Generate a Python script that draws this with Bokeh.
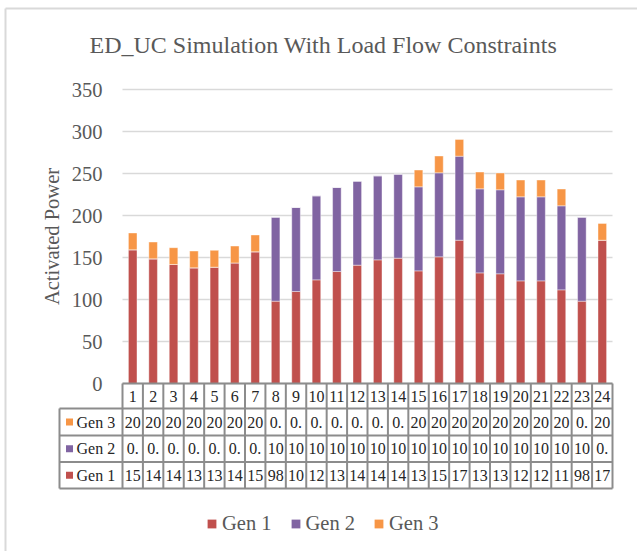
from bokeh.plotting import figure
from bokeh.models import Range1d, FixedTicker, ColumnDataSource, Legend, LegendItem
from bokeh.embed import file_html
from bokeh.resources import INLINE
from bokeh.core.properties import value

# ---------------- data ----------------
hours = list(range(1, 25))
gen1 = [159.2, 148.4, 141.7, 137.7, 138.5, 143.6, 156.8, 98.0, 109.5, 123.4, 133.3, 140.9,
        147.2, 149.2, 134.1, 150.8, 170.6, 131.7, 130.6, 122.2, 122.2, 111.5, 98.0, 170.6]
gen2 = [0.0, 0.0, 0.0, 0.0, 0.0, 0.0, 0.0, 100.0, 100.0, 100.0, 100.0, 100.0,
        100.0, 100.0, 100.0, 100.0, 100.0, 100.0, 100.0, 100.0, 100.0, 100.0, 100.0, 0.0]
gen3 = [20.0, 20.0, 20.0, 20.0, 20.0, 20.0, 20.0, 0.0, 0.0, 0.0, 0.0, 0.0,
        0.0, 0.0, 20.0, 20.0, 20.0, 20.0, 20.0, 20.0, 20.0, 20.0, 0.0, 20.0]
series_names = ["Gen 1", "Gen 2", "Gen 3"]
series_colors = ["#C0504D", "#8064A2", "#F79646"]
y_ticks = [0, 50, 100, 150, 200, 250, 300, 350]
title_text = "ED_UC Simulation With Load Flow Constraints"
y_label = "Activated Power"

# ---------------- geometry / style ----------------
FONT = "Liberation Serif"
GREY = "#595959"
DARK = "#262626"
TABLE_LINE = "#8C8C8C"
W, H = 637, 551
PLOT_L, PLOT_R = 122, 612        # horizontal extent of the bar area (pixels)
ZERO_PY, TOP_PY = 383, 89        # pixel rows of 0 and of the top tick
CAT_PX = (PLOT_R - PLOT_L) / len(hours)
PX_PER_VAL = (ZERO_PY - TOP_PY) / max(y_ticks)
LAB_U = 63 / CAT_PX              # width of the table's label column, in categories
X0 = -PLOT_L / CAT_PX
X1 = len(hours) + (W - PLOT_R) / CAT_PX
Y1 = max(y_ticks) + TOP_PY / PX_PER_VAL
Y0 = Y1 - H / PX_PER_VAL

def px2x(px):
    return X0 + px / CAT_PX

def px2y(py):
    return Y1 - py / PX_PER_VAL

def rowy(px_below_zero):
    return -px_below_zero / PX_PER_VAL

p = figure(width=W, height=H, x_range=Range1d(X0, X1), y_range=Range1d(Y0, Y1),
           output_backend="svg", toolbar_location=None, x_axis_location=None,
           min_border_left=0, min_border_right=0, min_border_top=0, min_border_bottom=0)
p.outline_line_color = None
p.grid.visible = False

# title
p.text(x=[px2x(89)], y=[px2y(44)], text=[title_text], text_font=value(FONT),
       text_font_size="24px", text_color=GREY, text_align="left", text_baseline="alphabetic")

ax = p.yaxis[0]
ax.fixed_location = 0
ax.bounds = (0, max(y_ticks))
ax.ticker = FixedTicker(ticks=y_ticks)
ax.axis_line_color = None
ax.major_tick_line_color = None
ax.minor_tick_line_color = None
ax.major_tick_out = 0
ax.major_tick_in = 0
ax.major_label_standoff = 20
ax.major_label_text_font = FONT
ax.major_label_text_font_size = "20.5px"
ax.major_label_text_color = GREY
ax.axis_label = y_label
ax.axis_label_text_font = FONT
ax.axis_label_text_font_size = "20.5px"
ax.axis_label_text_font_style = "normal"
ax.axis_label_text_color = GREY
ax.axis_label_standoff = 6

# chart-area border (left and top edges visible in the picture)
p.segment(x0=[px2x(5), px2x(5)], y0=[px2y(8), px2y(8)], x1=[px2x(5), px2x(W + 5)], y1=[px2y(H + 5), px2y(8)],
          line_color="#D9D9D9", line_width=2)

# horizontal gridlines
p.segment(x0=[0] * len(y_ticks), x1=[len(hours)] * len(y_ticks), y0=y_ticks, y1=y_ticks,
          line_color="#D9D9D9", line_width=1.5)

# stacked bars
src = ColumnDataSource(dict(x=[h - 0.5 for h in hours], g1=gen1, g2=gen2, g3=gen3))
p.vbar_stack(["g1", "g2", "g3"], x="x", width=0.42, source=src,
             fill_color=series_colors, line_color="white", line_alpha=0.5, line_width=0.8)

# ---------------- data table ----------------
row_px = [0, 25, 52, 78.5, 105]
row_y = [rowy(v) for v in row_px]
row_mid = [rowy((row_px[i] + row_px[i + 1]) / 2) for i in range(4)]

hx0 = [0] + [-LAB_U] * 4
p.segment(x0=hx0, y0=row_y, x1=[len(hours)] * 5, y1=row_y, line_color=TABLE_LINE, line_width=2)
vx = [-LAB_U] + [float(k) for k in range(len(hours) + 1)]
vy0 = [row_y[1]] + [row_y[0]] * (len(hours) + 1)
p.segment(x0=vx, y0=vy0, x1=vx, y1=[row_y[-1]] * len(vx), line_color=TABLE_LINE, line_width=2)

p.text(x=[h - 0.5 for h in hours], y=[row_mid[0]] * 24, text=[str(h) for h in hours],
       text_font=value(FONT), text_font_size="16px", text_color=DARK,
       text_align="center", text_baseline="middle")

def cell(v):
    return repr(float(v))[:2]

table_rows = [(gen3, 2), (gen2, 1), (gen1, 0)]
for r, (vals, si) in enumerate(table_rows):
    y = row_mid[r + 1]
    p.text(x=[h - 0.5 for h in hours], y=[y] * 24, text=[cell(v) for v in vals],
           text_font=value(FONT), text_font_size="16px", text_color=DARK,
           text_align="center", text_baseline="middle")
    p.text(x=[-LAB_U + 17 / CAT_PX], y=[y], text=[series_names[si]],
           text_font=value(FONT), text_font_size="16px", text_color=DARK,
           text_align="left", text_baseline="middle")

key_renderers = []
for si in range(3):
    key_renderers.append(p.rect(x=[-LAB_U + 10 / CAT_PX], y=[row_mid[3 - si]], width=7, height=7,
                                width_units="screen", height_units="screen",
                                fill_color=series_colors[si], line_color=None))

legend = Legend(items=[LegendItem(label=series_names[si], renderers=[key_renderers[si]]) for si in range(3)],
                orientation="horizontal", location=(206, 16),
                glyph_width=11, glyph_height=11, label_standoff=5, spacing=18,
                label_text_font=FONT, label_text_font_size="20.5px", label_text_color=GREY,
                border_line_color=None, background_fill_alpha=0, padding=4, margin=0)
p.add_layout(legend)

open("out.html", "w").write(file_html(p, INLINE))
